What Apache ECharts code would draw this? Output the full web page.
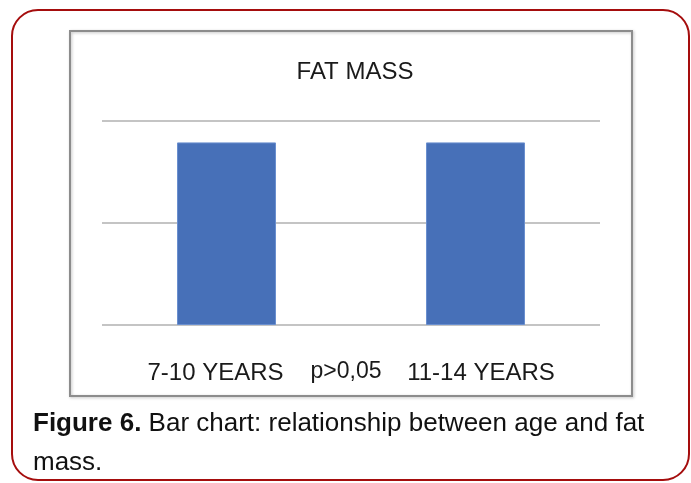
<!DOCTYPE html>
<html>
<head>
<meta charset="utf-8">
<script src="https://cdn.jsdelivr.net/npm/echarts@6/dist/echarts.min.js"></script>
<style>
  html, body { margin: 0; padding: 0; background: #ffffff; }
  #chart { width: 691px; height: 483px; }
</style>
</head>
<body>
<div id="chart"></div>
<script>
const categories = ['7-10 YEARS', '11-14 YEARS']
const fatMass = [1.79, 1.79]
const yTicks = [0, 1, 2]
const pValueText = 'p>0,05'

const sans = '"Liberation Sans", Arial, sans-serif'

let myChart = echarts.init(document.getElementById('chart'))
let options = {
  backgroundColor: '#ffffff',
  animation: false,
  title: {
    text: 'FAT MASS',
    left: 350,
    top: 55,
    textAlign: 'center',
    textStyle: { fontFamily: sans, fontSize: 24, fontWeight: 'normal', color: '#1a1a1a' }
  },
  grid: { left: 102, right: 91, top: 121, bottom: 158 },
  xAxis: {
    type: 'category',
    data: categories,
    axisLine: { show: false },
    axisTick: { show: false },
    axisLabel: {
      margin: 36,
      formatter: (v, i) => i === 0 ? '{a|' + v + '}' : '{b|' + v + '}',
      rich: {
        a: { fontFamily: sans, fontSize: 24, color: '#1a1a1a', padding: [0, 22, 0, 0] },
        b: { fontFamily: sans, fontSize: 24, color: '#1a1a1a', padding: [0, 0, 0, 11] }
      }
    }
  },
  yAxis: {
    type: 'value',
    min: yTicks[0],
    max: yTicks[yTicks.length - 1],
    interval: 1,
    axisLabel: { show: false },
    axisLine: { show: false },
    axisTick: { show: false },
    splitLine: { lineStyle: { color: '#c4c4c4', width: 2 } }
  },
  series: [
    {
      name: 'FAT MASS',
      type: 'bar',
      data: fatMass,
      barWidth: 99,
      itemStyle: { color: '#4770b8', borderColor: '#6a8fcf', borderWidth: 1 }
    }
  ],
  graphic: [
    {
      type: 'rect',
      shape: { x: 12, y: 10, width: 677, height: 470, r: 26 },
      style: { fill: 'none', stroke: '#a50d0d', lineWidth: 2 },
      z: 0
    },
    {
      type: 'rect',
      shape: { x: 70, y: 31, width: 562, height: 365 },
      style: { fill: 'none', stroke: '#8c8c8c', lineWidth: 2, shadowColor: 'rgba(0,0,0,0.25)', shadowBlur: 3, shadowOffsetX: 1, shadowOffsetY: 1 },
      z: 0
    },
    {
      type: 'text',
      style: { text: pValueText, x: 346, y: 372, fontFamily: sans, fontSize: 23, fill: '#1a1a1a', align: 'center', verticalAlign: 'middle' }
    },
    {
      type: 'text',
      style: {
        text: '{b|Figure 6.} Bar chart: relationship between age and fat\nmass.',
        x: 33,
        y: 404,
        fontFamily: sans,
        fontSize: 26,
        lineHeight: 39,
        fill: '#111111',
        rich: {
          b: { fontFamily: sans, fontSize: 26, fontWeight: 'bold', fill: '#111111' }
        }
      }
    }
  ]
}
myChart.setOption(options)
</script>
</body>
</html>
